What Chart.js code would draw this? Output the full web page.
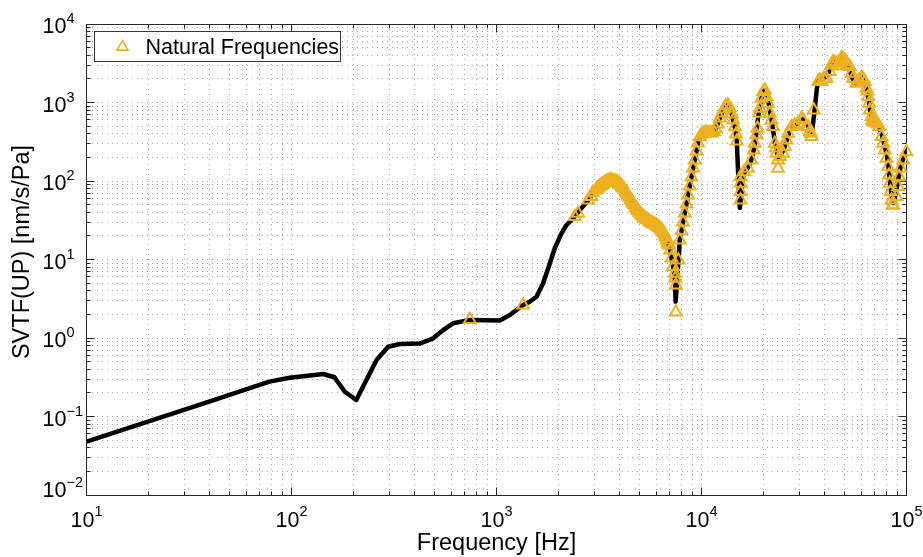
<!DOCTYPE html>
<html>
<head>
<meta charset="utf-8">
<title>SVTF(UP)</title>
<script src="https://cdn.jsdelivr.net/npm/chart.js@4.4.1/dist/chart.umd.min.js"></script>
<style>
  html, body { margin: 0; padding: 0; background: #fff; }
  canvas { display: block; }
</style>
</head>
<body>
<canvas id="svtf" width="923" height="557"></canvas>
<script>
// Transfer function magnitude, frequency in Hz, SVTF in nm/s/Pa
const responseHz = [
  10, 40, 78, 98, 143, 162, 182, 207, 232, 260,
  296, 338, 422, 491, 549, 614, 741, 1038, 1161, 1349,
  1453, 1567, 1688, 1820, 1924, 2075, 2195, 2364, 2800, 3017,
  3191, 3377, 3570, 3778, 3995, 4225, 4470, 4725, 5000, 5285,
  5592, 5916, 6255, 6545, 6770, 7000, 7271, 7412, 7478, 7578,
  7724, 7837, 7989, 8288, 8601, 8936, 9275, 9625, 9810, 10035,
  10495, 10977, 11482, 11743, 12283, 12849, 13441, 13744, 14057, 14537,
  14868, 15033, 15375, 15636, 15902, 16263, 16821, 17398, 17993, 18402,
  18820, 19248, 19685, 20132, 20475, 20822, 21296, 21779, 22274, 22780,
  23298, 23827, 24368, 25203, 26066, 26959, 27884, 29164, 30505, 31907,
  33001, 34310, 34909, 35702, 36513, 37150, 38624, 40397, 41782, 43214,
  44697, 46230, 47814, 49178, 50578, 52311, 54103, 55955, 57874, 60193,
  61908, 63671, 65118, 66226, 67351, 69270, 71242, 73273, 75785, 78384,
  80614, 81984, 83377, 84794, 86235, 87701, 89694, 91733, 93817, 96483,
  100000
];
const responseVal = [
  0.0478, 0.156, 0.278, 0.312, 0.348, 0.316, 0.207, 0.162, 0.292, 0.525,
  0.775, 0.839, 0.85, 0.99, 1.26, 1.54, 1.70, 1.67, 1.96, 2.63,
  2.9, 3.36, 4.98, 8.9, 13.9, 21.5, 27.5, 33.4, 57, 75.7,
  86.3, 95.7, 103, 100, 91.6, 76.8, 60.7, 48.1, 39.1, 33.8,
  30.5, 27.9, 25.2, 21.8, 17.7, 14.0, 8.1, 5.8, 2.9, 4.7,
  9.9, 17.7, 23.1, 39.1, 66.3, 112.5, 185, 305, 364, 397,
  421, 415, 427, 460, 635, 826, 930, 851, 714, 488,
  323, 160, 45.3, 66.3, 109, 130, 146.5, 175, 248, 353,
  598, 903, 1175, 1401, 1443, 1246, 957, 693, 473, 314,
  234, 196, 214, 256, 333, 434, 502, 532, 616, 598,
  517, 397, 502, 851, 1490, 1880, 1993, 2113, 2447, 3186,
  3478, 3186, 3582, 3688, 3281, 2751, 2113, 1772, 1824, 2113,
  1935, 1576, 1175, 851, 659, 548, 581, 502, 386, 279,
  196, 138, 88.9, 60.7, 52.4, 60.7, 81.4, 115, 155, 196,
  241
];

// Natural frequencies marked on the curve
const naturalHz = [
  741, 1349, 2410, 2500, 2800, 2906, 2950, 3051, 3086, 3120,
  3173, 3228, 3263, 3301, 3356, 3414, 3452, 3491, 3550, 3611,
  3651, 3693, 3755, 3819, 3862, 3906, 3972, 4040, 4086, 4132,
  4202, 4273, 4321, 4370, 4445, 4520, 4571, 4622, 4701, 4780,
  4835, 4890, 4973, 5056, 5115, 5171, 5260, 5348, 5410, 5470,
  5564, 5657, 5723, 5785, 5886, 5984, 6053, 6119, 6226, 6330,
  6403, 6474, 6549, 6622, 6697, 6772, 6850, 6926, 7043, 7141,
  7271, 7412, 7440, 7493, 7493, 7706, 7837, 7989, 8134, 8288,
  8448, 8601, 8767, 8936, 9099, 9275, 9454, 9625, 9810, 10035,
  10267, 10495, 10732, 10977, 11226, 11482, 11743, 12010, 12283, 12564,
  12849, 13141, 13441, 13744, 14057, 14295, 14537, 14735, 14868, 15496,
  15496, 15496, 15496, 16136, 16877, 17535, 17993, 18197, 18547, 18757,
  19097, 19248, 19619, 19975, 20360, 20752, 21129, 21536, 21951, 22350,
  22780, 23038, 23219, 23640, 23640, 24096, 25006, 25487, 25978, 26449,
  27479, 28517, 29594, 30745, 31303, 32523, 33113, 33752, 34133, 34403,
  35303, 37051, 37768, 38494, 39505, 40717, 42253, 43068, 43702, 44347,
  45200, 46230, 47013, 47814, 48352, 49068, 50009, 50578, 51434, 52901,
  53921, 54897, 57034, 57874, 58856, 60329, 61215, 62607, 63815, 64393,
  64972, 65706, 66226, 67502, 68113, 68726, 70052, 71403, 72444, 73520,
  75530, 76900, 78384, 79894, 81342, 82261, 82910, 83565, 84509, 85464,
  86235, 89393, 91013, 92042, 93501, 96266, 100000
];
const naturalVal = [
  1.72, 2.63, 35.1, 38.8, 57.3, 63.1, 71.4, 76.8, 79.8, 81.4,
  85.1, 87.6, 90.0, 91.6, 94.9, 97.1, 98.5, 100, 102.4, 103,
  102.4, 101.5, 100.3, 98.5, 96.5, 95.7, 92.4, 88.9, 85.3, 82.6,
  78.2, 73.5, 69.9, 66.3, 62.2, 58.1, 55.3, 52.4, 49.2, 45.9,
  44.2, 42.1, 39.9, 38.0, 36.9, 35.8, 34.3, 33.3, 32.2, 31.9,
  30.7, 30.0, 29.4, 28.7, 28.2, 27.5, 26.8, 26.3, 25.5, 24.5,
  23.6, 22.7, 21.8, 20.5, 19.1, 17.7, 16.2, 15.3, 13.2, 10.4,
  8.1, 6.67, 5.76, 4.73, 2.14, 9.86, 17.7, 23.1, 30.0, 39.1,
  50.9, 66.3, 86.3, 112.5, 146.5, 185, 241, 305, 364, 397,
  409, 421, 409, 415, 409, 427, 460, 532, 635, 735,
  826, 903, 930, 851, 714, 598, 488, 397, 323, 113,
  93.5, 73.1, 57.3, 131, 145, 185, 248, 302, 386, 469,
  729, 843, 1131, 1373, 1443, 1185, 977, 729, 598, 492,
  302, 263, 225, 185, 145, 204, 225, 274, 333, 405,
  492, 517, 543, 629, 598, 492, 492, 425, 405, 367,
  800, 1841, 1935, 1841, 2022, 2034, 2469, 3004, 3281, 3281,
  3186, 2917, 3186, 3478, 3743, 3582, 3478, 3281, 3049, 2858,
  2355, 2034, 1756, 1824, 1935, 2052, 2052, 1841, 1517, 1401,
  1185, 977, 803, 659, 598, 569, 564, 548, 532, 492,
  367, 302, 248, 195, 152, 119, 93.5, 73.1, 57.3, 49.4,
  49.4, 63.1, 84.6, 113, 145, 185, 236
];

// Decade tick exponents for the two log axes
const xTickExp = [1, 2, 3, 4, 5];
const yTickExp = [-2, -1, 0, 1, 2, 3, 4];

const xTitle = 'Frequency [Hz]';
const yTitle = 'SVTF(UP) [nm/s/Pa]';
const markerLabel = 'Natural Frequencies';

const FAMILY = '"Liberation Sans", Arial, Helvetica, sans-serif';
const INK = '#262626';
const MARKER = '#EDB120';
const font = px => px + 'px ' + FAMILY;
const supText = e => (e < 0 ? '\u2212' + (-e) : String(e));

// all 1..9 x 10^n values between two decades, used for grid and minor ticks
function logTicks(lo, hi) {
  const out = [];
  for (let e = lo; e < hi; e++) {
    for (let m = 1; m < 10; m++) out.push(m * Math.pow(10, e));
  }
  out.push(Math.pow(10, hi));
  return out;
}
const isDecade = v => Math.abs(Math.log10(v) - Math.round(Math.log10(v))) < 1e-9;

function triangle(ctx, cx, cy, r) {
  ctx.beginPath();
  for (let k = 0; k < 3; k++) {
    const a = k * 2 * Math.PI / 3;
    const px = cx + Math.sin(a) * r, py = cy - Math.cos(a) * r;
    if (k === 0) ctx.moveTo(px, py); else ctx.lineTo(px, py);
  }
  ctx.closePath();
}

// box around the axes with inward tick marks on all four sides
const axesBox = {
  id: 'axesBox',
  beforeDatasetsDraw(chart) {
    const { ctx, chartArea: a, scales: { x, y } } = chart;
    const L = Math.round(a.left - 0.5) + 0.5, R = Math.round(a.right - 0.5) + 0.5;
    const T = Math.round(a.top) + 0.5, B = Math.round(a.bottom - 0.5) + 0.5;
    ctx.save();
    ctx.strokeStyle = INK;
    ctx.lineWidth = 1;
    ctx.beginPath();
    x.ticks.forEach(t => {
      const px = Math.round(x.getPixelForValue(t.value) - 0.5) + 0.5;
      const len = isDecade(t.value) ? 8 : 4;
      ctx.moveTo(px, B); ctx.lineTo(px, B - len);
      ctx.moveTo(px, T); ctx.lineTo(px, T + len);
    });
    y.ticks.forEach(t => {
      const py = Math.round(y.getPixelForValue(t.value) - 0.5) + 0.5;
      const len = isDecade(t.value) ? 8 : 4;
      ctx.moveTo(L, py); ctx.lineTo(L + len, py);
      ctx.moveTo(R, py); ctx.lineTo(R - len, py);
    });
    ctx.stroke();
    ctx.strokeRect(L, T, R - L, B - T);
    ctx.restore();
  }
};

// legend box in the upper left corner of the axes
const markerLegend = {
  id: 'markerLegend',
  afterDatasetsDraw(chart) {
    const { ctx, chartArea: a } = chart;
    const ds = chart.data.datasets[1];
    const bx = Math.round(a.left + 7) + 0.5, by = Math.round(a.top + 7) + 0.5;
    ctx.save();
    ctx.fillStyle = '#fff';
    ctx.fillRect(bx, by, 246, 30);
    ctx.strokeStyle = '#3a3a3a';
    ctx.lineWidth = 1;
    ctx.strokeRect(bx, by, 246, 30);
    ctx.strokeStyle = ds.pointBorderColor;
    ctx.lineWidth = 1.6;
    triangle(ctx, bx + 28, by + 15.5, 6.3);
    ctx.stroke();
    ctx.fillStyle = '#000';
    ctx.font = font(21.5);
    ctx.textAlign = 'left';
    ctx.textBaseline = 'alphabetic';
    ctx.fillText(ds.label, bx + 51, by + 22);
    ctx.restore();
  }
};

// power-of-ten tick labels and the axis titles
const axisText = {
  id: 'axisText',
  afterDraw(chart) {
    const { ctx, chartArea: a, scales: { x, y } } = chart;
    ctx.save();
    ctx.fillStyle = '#000';
    ctx.textBaseline = 'alphabetic';

    xTickExp.forEach(e => {
      const px = x.getPixelForValue(Math.pow(10, e));
      ctx.font = font(21.5);
      const wb = ctx.measureText('10').width;
      ctx.font = font(14.5);
      const we = ctx.measureText(supText(e)).width;
      const left = px - (wb + we) / 2;
      ctx.textAlign = 'left';
      ctx.font = font(21.5);
      ctx.fillText('10', left, a.bottom + 32);
      ctx.font = font(14.5);
      ctx.fillText(supText(e), left + wb, a.bottom + 21);
    });

    yTickExp.forEach(e => {
      const py = y.getPixelForValue(Math.pow(10, e));
      const base = Math.min(py + 9, a.bottom + 2);
      const xr = a.left - 20;
      ctx.textAlign = 'right';
      ctx.font = font(21.5);
      ctx.fillText('10', xr, base);
      ctx.textAlign = 'left';
      ctx.font = font(14.5);
      ctx.fillText(supText(e), xr, base - 10);
    });

    ctx.font = font(23.5);
    ctx.textAlign = 'center';
    ctx.fillText(xTitle, (a.left + a.right) / 2, a.bottom + 55);

    ctx.translate(29, (a.top + a.bottom) / 2 - 7.5);
    ctx.rotate(-Math.PI / 2);
    ctx.fillText(yTitle, 0, 0);
    ctx.restore();
  }
};

const scaleBase = {
  type: 'logarithmic',
  ticks: { display: false },
  grid: { color: 'rgba(0,0,0,0.33)', lineWidth: 1, drawTicks: false },
  border: { display: false, dash: [1, 4] }
};

new Chart(document.getElementById('svtf'), {
  type: 'scatter',
  data: {
    datasets: [
      {
        label: 'SVTF',
        data: responseHz.map((f, i) => ({ x: f, y: responseVal[i] })),
        showLine: true,
        borderColor: '#000',
        borderWidth: 4.5,
        borderJoinStyle: 'round',
        borderCapStyle: 'round',
        pointRadius: 0,
        tension: 0,
        order: 2
      },
      {
        label: markerLabel,
        data: naturalHz.map((f, i) => ({ x: f, y: naturalVal[i] })),
        showLine: false,
        pointStyle: 'triangle',
        pointRadius: 6.8,
        pointBorderWidth: 2,
        pointBorderColor: MARKER,
        pointBackgroundColor: 'rgba(0,0,0,0)',
        clip: false,
        order: 1
      }
    ]
  },
  options: {
    responsive: false,
    devicePixelRatio: 1,
    animation: false,
    events: [],
    layout: { padding: { left: 86.5, right: 16.5, top: 24, bottom: 62 } },
    plugins: { legend: { display: false }, tooltip: { enabled: false } },
    scales: {
      x: Object.assign({}, scaleBase, {
        min: 10, max: 100000,
        afterBuildTicks: s => { s.ticks = logTicks(1, 5).map(v => ({ value: v })); },
        afterFit: s => { s.height = 0; }
      }),
      y: Object.assign({}, scaleBase, {
        min: 0.01, max: 10000,
        afterBuildTicks: s => { s.ticks = logTicks(-2, 4).map(v => ({ value: v })); },
        afterFit: s => { s.width = 0; }
      })
    }
  },
  plugins: [axesBox, markerLegend, axisText]
});
</script>
</body>
</html>
